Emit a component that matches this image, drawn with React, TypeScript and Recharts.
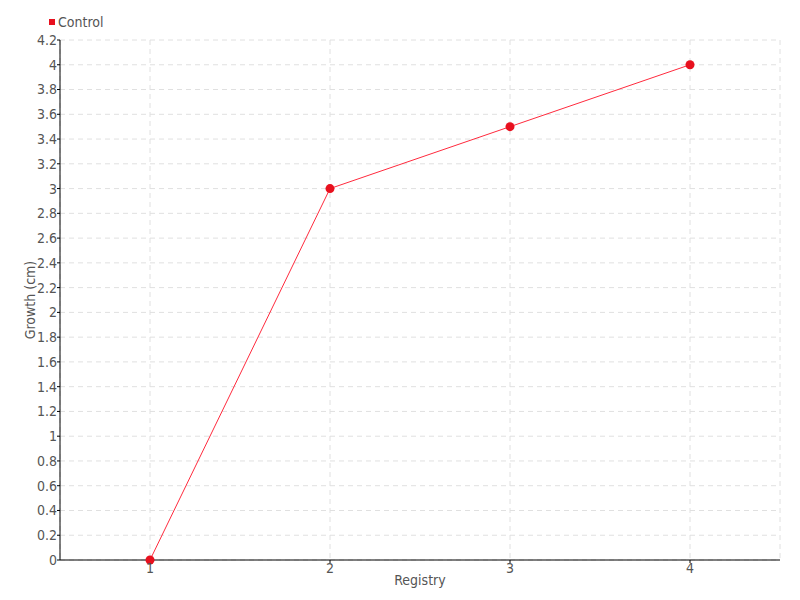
import React from 'react';
import { LineChart, Line, XAxis, YAxis, CartesianGrid, Legend } from 'recharts';

const registry = ['1', '2', '3', '4'];
const control = [0, 3, 3.5, 4];
const yTicks = [0, 0.2, 0.4, 0.6, 0.8, 1, 1.2, 1.4, 1.6, 1.8, 2, 2.2, 2.4, 2.6, 2.8, 3, 3.2, 3.4, 3.6, 3.8, 4, 4.2];
const seriesName = 'Control';

const data = registry.map((r, i) => ({ registry: r, control: control[i] }));

const FONT = '"DejaVu Sans Condensed", "Liberation Sans Narrow", sans-serif';
const TEXT = '#555';

const renderLegend = () => (
  <div style={{ display: 'flex', alignItems: 'center', fontFamily: FONT, fontSize: 14, color: TEXT, height: 16, lineHeight: '16px' }}>
    <span style={{ display: 'inline-block', width: 6, height: 6, background: '#e8101e', marginRight: 3 }} />
    <span>{seriesName}</span>
  </div>
);

export default function App() {
  return (
    <div style={{ position: 'absolute', left: 0, top: 0, width: 800, height: 600, background: '#fff' }}>
      <LineChart width={800} height={600} data={data} margin={{ top: 24, right: 20, bottom: 0, left: 0 }}>
        <CartesianGrid stroke="#e0e0e0" strokeDasharray="5 4" />
        <XAxis
          dataKey="registry"
          padding={{ left: 90, right: 90 }}
          height={40}
          tickSize={3}
          tickMargin={0}
          axisLine={{ stroke: '#000' }}
          tickLine={{ stroke: '#000' }}
          tick={{ fill: TEXT, fontSize: 14, fontFamily: FONT }}
          label={{ value: 'Registry', position: 'center', fill: TEXT, fontSize: 14, fontFamily: FONT }}
        />
        <YAxis
          width={60}
          domain={[0, 4.2]}
          ticks={yTicks}
          interval={0}
          tickSize={3}
          tickMargin={0}
          axisLine={{ stroke: '#000' }}
          tickLine={{ stroke: '#000' }}
          tick={{ fill: TEXT, fontSize: 14, fontFamily: FONT }}
          label={{ value: 'Growth (cm)', angle: -90, position: 'center', fill: TEXT, fontSize: 14, fontFamily: FONT }}
        />
        <Legend
          verticalAlign="top"
          align="left"
          height={16}
          content={renderLegend}
          wrapperStyle={{ position: 'absolute', top: 14, left: 49, width: 'auto' }}
        />
        <Line
          type="linear"
          dataKey="control"
          name={seriesName}
          stroke="#ff2a3d"
          strokeWidth={1}
          dot={{ r: 4.5, fill: '#e8101e', stroke: '#e8101e', strokeWidth: 0 }}
          activeDot={false}
          isAnimationActive={false}
        />
      </LineChart>
    </div>
  );
}
